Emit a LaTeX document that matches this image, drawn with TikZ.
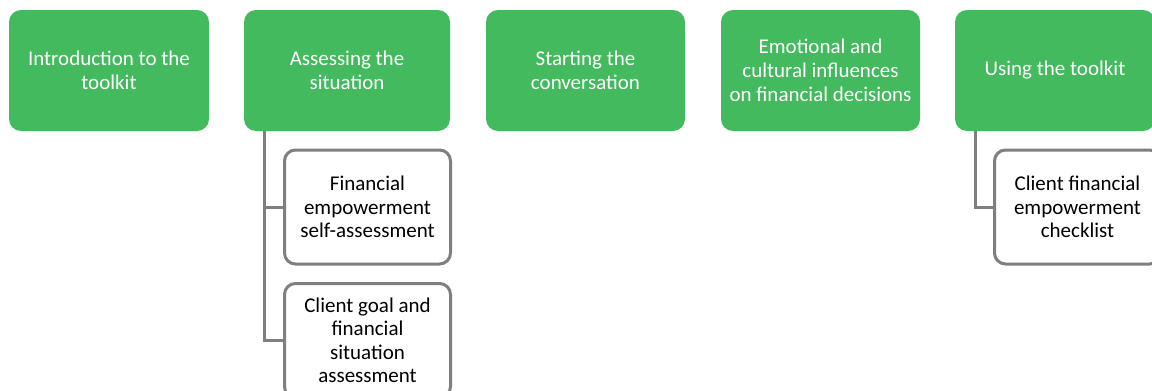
\documentclass[tikz,border=0pt]{standalone}
\usepackage{fontspec}
\setmainfont{Carlito}
\definecolor{sgreen}{RGB}{67,186,94}
\definecolor{sgray}{RGB}{127,127,127}
\begin{document}
\begin{tikzpicture}[x=1pt,y=-1pt,
  topbox/.style={rectangle,rounded corners=12pt,fill=sgreen,text=white,align=center,
    minimum height=121pt,inner sep=0pt,font=\fontsize{21}{24}\selectfont},
  subbox/.style={rectangle,rounded corners=11pt,draw=sgray,line width=3pt,fill=white,
    align=center,minimum width=166pt,minimum height=114pt,inner sep=0pt,
    font=\fontsize{21}{23.5}\selectfont},
  link/.style={draw=sgray,line width=3pt}]
\useasboundingbox (0,0) rectangle (1152,391);
\clip (0,0) rectangle (1152,391);
\node[topbox,minimum width=200pt] (t1) at (109,70.5) {Introduction to the\\toolkit};
\node[topbox,minimum width=206pt] (t2) at (347,70.5) {Assessing the\\situation};
\node[topbox,minimum width=199pt] (t3) at (585.5,70.5) {Starting the\\conversation};
\node[topbox,minimum width=199pt] (t4) at (820.5,70.5) {Emotional and\\cultural influences\\on financial decisions};
\node[topbox,minimum width=200pt] (t5) at (1055,70.5) {Using the toolkit};
\node[subbox] (c1) at (367.5,207) {Financial\\empowerment\\self-assessment};
\node[subbox] (c2) at (367.5,340.5) {Client goal and\\financial\\situation\\assessment};
\node[subbox] (c3) at (1077.5,207) {Client financial\\empowerment\\checklist};
\coordinate (s2) at ([xshift=21pt]t2.south west);
\coordinate (s5) at ([xshift=21pt]t5.south west);
\draw[link] (s2) |- (c1.west);
\draw[link] (s2) |- (c2.west);
\draw[link] (s5) |- (c3.west);
\end{tikzpicture}
\end{document}
